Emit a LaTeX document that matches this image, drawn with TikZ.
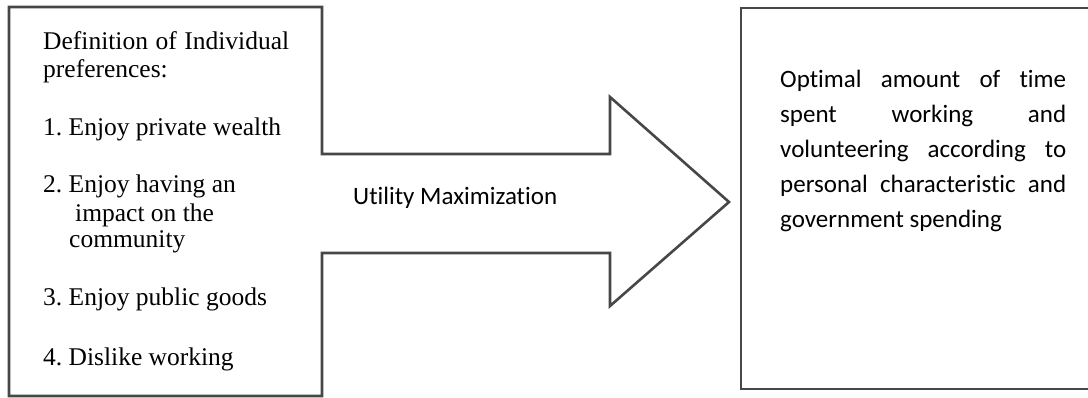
\documentclass[tikz,border=0pt]{standalone}
\usepackage{fontspec}
\setmainfont{Liberation Serif}
\setsansfont{Carlito}[Ligatures=NoCommon]
\frenchspacing
\begin{document}
\begin{tikzpicture}[x=1pt,y=-1pt]
    \tikzset{
        frame line/.style={draw=black!72,line width=2.6pt,line join=miter},
        serif line/.style={anchor=base west,inner sep=0pt,font=\fontsize{25.5}{28}\selectfont},
        sans line/.style={anchor=base west,inner sep=0pt,font=\sffamily\fontsize{25}{35}\selectfont}
    }
    \useasboundingbox (0,0) rectangle (1088,398);
    % left box and block arrow as one outline
    \draw[frame line] (322,154) -- (322,7) -- (9,7) -- (9,396) -- (322,396) -- (322,253)
        -- (610,253) -- (610,306) -- (729,202) -- (610,97) -- (610,154) -- cycle;
    % right box, its far side runs off the page
    \draw[frame line] (1088,8) -- (741,8) -- (741,389) -- (1088,389);
    % preferences
    \node[serif line] (def) at (43,50) {\makebox[246pt][s]{Definition of Individual}};
    \node[serif line] (prefs) at (43,78) {preferences:};
    \node[serif line] (wealth) at (43,136) {1. Enjoy private wealth};
    \node[serif line] (impact) at (43,193) {2. Enjoy having an};
    \node[serif line] (impactb) at (75,222) {impact on the};
    \node[serif line] (impactc) at (69,248) {community};
    \node[serif line] (public) at (43,306) {3. Enjoy public goods};
    \node[serif line] (dislike) at (43,365) {4. Dislike working};
    % arrow label
    \node[sans line] (utility) at (353,205) {Utility Maximization};
    % outcome, justified by hand
    \node[sans line] (opt) at (780,88) {\makebox[286pt][s]{Optimal amount of time}};
    \node[sans line] (spent) at (780,123) {\makebox[286pt][s]{spent working and}};
    \node[sans line] (vol) at (780,158) {\makebox[286pt][s]{volunteering according to}};
    \node[sans line] (pers) at (780,193) {\makebox[286pt][s]{personal characteristic and}};
    \node[sans line] (gov) at (780,228) {government spending};
\end{tikzpicture}
\end{document}
